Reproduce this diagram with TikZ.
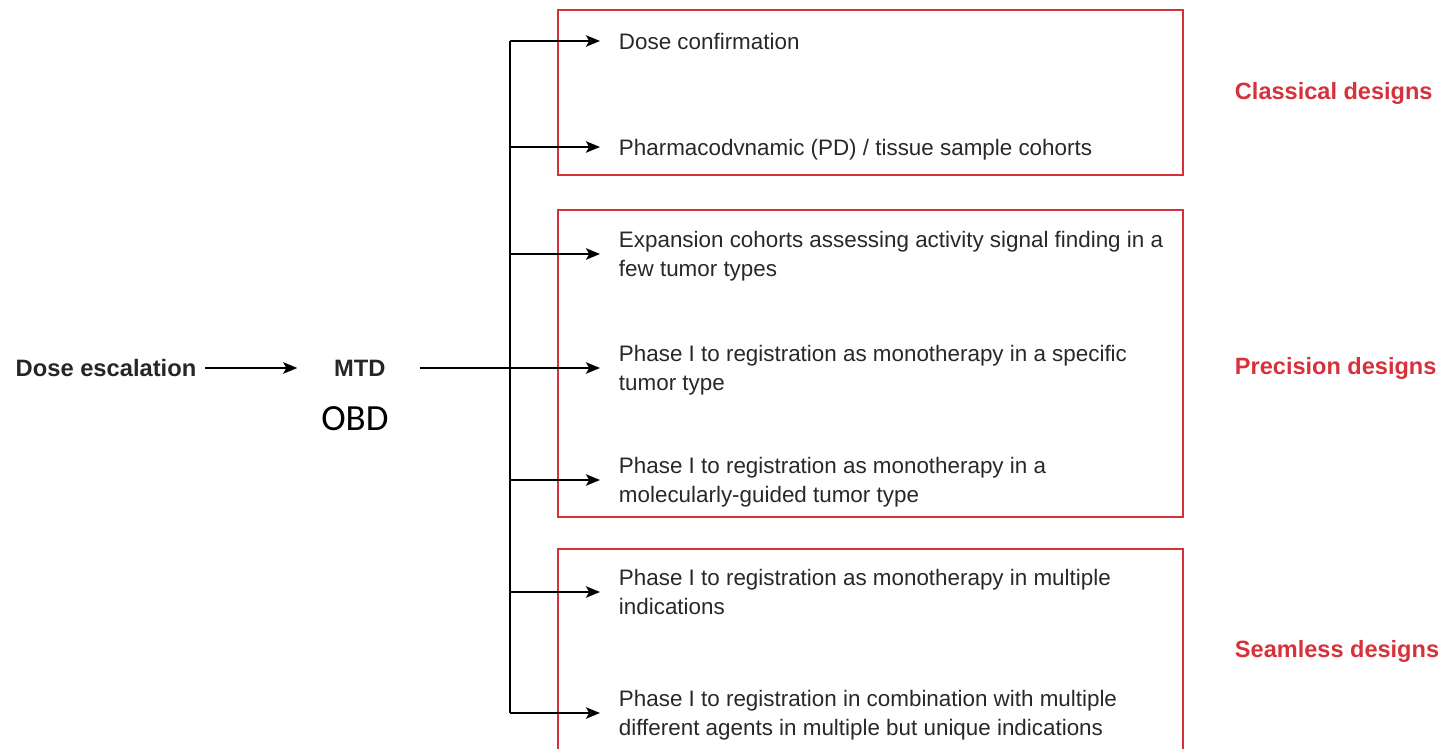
\documentclass[tikz,border=0pt]{standalone}
\usepackage{fontspec}
\setmainfont{Liberation Sans}
\newfontfamily\obdfont{Carlito}
\usetikzlibrary{arrows.meta,calc,positioning}
\definecolor{designred}{RGB}{214,50,60}
\definecolor{cohortgray}{RGB}{40,40,40}

\begin{document}
\begin{tikzpicture}[x=0.02cm,y=-0.02cm,>={Stealth[length=8pt,width=6.5pt,inset=1.8pt]},line width=1.1pt,
	every node/.style={inner sep=0pt},
	head/.style={text=black!85,font=\fontsize{13.5}{16}\selectfont\bfseries},
	cohort/.style={anchor=west,align=left,text depth=0pt,text=cohortgray,font=\fontsize{12.75}{16.2}\selectfont},
	design/.style={anchor=west,text=designred,font=\fontsize{13.4}{16}\selectfont\bfseries},
	group/.style={draw=designred,line width=1.4pt}]
		\useasboundingbox (0,0) rectangle (1443,749);
		\node[head] (esc) at (106,368) {Dose escalation};
		\node[head] [right=2.72cm of esc] (mtd) {MTD};
		\node[font=\obdfont\fontsize{21}{24}\selectfont] [below=0.56cm of mtd,xshift=-0.1cm] (obd) {OBD};
		\node[cohort] (c_0) at (618,41) {Dose confirmation};
		\node[cohort] (c_1) at (618,147) {Pharmacodvnamic (PD) / tissue sample cohorts};
		\node[cohort] (c_2) at (618,254) {Expansion cohorts assessing activity signal finding in a\\few tumor types};
		\node[cohort] (c_3) at (618,368) {Phase I to registration as monotherapy in a specific\\tumor type};
		\node[cohort] (c_4) at (618,480) {Phase I to registration as monotherapy in a\\molecularly-guided tumor type};
		\node[cohort] (c_5) at (618,592) {Phase I to registration as monotherapy in multiple\\indications};
		\node[cohort] (c_6) at (618,713) {Phase I to registration in combination with multiple\\different agents in multiple but unique indications};
		\node[design] (g_0) at (1234,93) {Classical designs};
		\node[design] (g_1) at (1234,368) {Precision designs};
		\node[design] (g_2) at (1234,651) {Seamless designs};
		\draw[group] (558,10) rectangle (1183,175);
		\draw[group] (558,210) rectangle (1183,517);
		\draw[group] (558,749) |- (1183,549) -- (1183,749);
		\coordinate (trunk) at (510,368);
		\draw (c_0.west -| trunk) -- (c_6.west -| trunk);
		\path[->,shorten >=0.36cm]
			(esc) edge [shorten <=0.16cm,shorten >=0.72cm] (mtd)
			(mtd.east) edge [shorten <=0.66cm] (c_3.west)
			(c_0.west -| trunk) edge (c_0.west)
			(c_1.west -| trunk) edge (c_1.west)
			(c_2.west -| trunk) edge (c_2.west)
			(c_4.west -| trunk) edge (c_4.west)
			(c_5.west -| trunk) edge (c_5.west)
			(c_6.west -| trunk) edge (c_6.west);
	\end{tikzpicture}
\end{document}
